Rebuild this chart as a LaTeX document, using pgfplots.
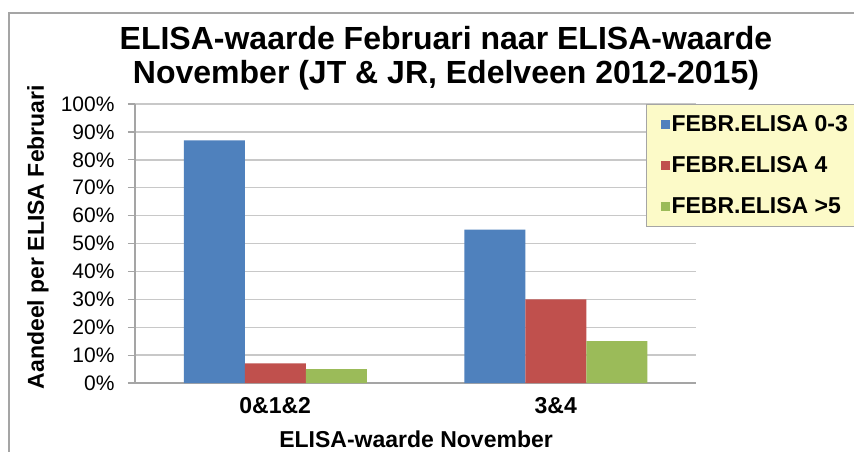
\documentclass[border=0pt]{standalone}
\usepackage{pgfplots}
\pgfplotsset{compat=1.18}
\usepackage{fontspec}
\setmainfont{Liberation Sans}
\definecolor{cblue}{RGB}{79,129,189}
\definecolor{cred}{RGB}{192,80,77}
\definecolor{cgreen}{RGB}{155,187,89}
\definecolor{legfill}{RGB}{252,250,200}
\definecolor{gridgray}{RGB}{200,200,200}
\definecolor{axgray}{RGB}{165,165,165}
\pgfplotsset{sqleg/.style={legend image code/.code={\fill[##1] (0pt,-4.5pt) rectangle (9pt,4.5pt);}}}
\begin{document}
\begin{tikzpicture}
\useasboundingbox (0pt,0pt) rectangle (854pt,-452pt);
\clip (0pt,0pt) rectangle (854pt,-452pt);
\fill[white] (0pt,0pt) rectangle (854pt,-452pt);
\draw[axgray, line width=1.5pt] (9pt,-452pt) -- (9pt,-13pt) -- (854pt,-13pt);
\node[font=\bfseries\fontsize{32}{34}\selectfont, align=center, anchor=base] at (446pt,-84pt) {ELISA-waarde Februari naar ELISA-waarde\\November (JT \& JR, Edelveen 2012-2015)};
\begin{axis}[
  at={(135pt,-383pt)}, anchor=south west,
  scale only axis, width=561pt, height=279pt,
  xmin=-0.5, xmax=1.5, ymin=0, ymax=100,
  ybar=0pt, bar width=61pt,
  axis x line*=bottom, axis y line*=left,
  axis line style={axgray, line width=1.2pt},
  tick align=outside, major tick length=7pt,
  xtick={0,1}, xticklabels={0\&1\&2, 3\&4},
  x tick style={draw=none},
  extra x ticks={-0.5,0.5,1.5}, extra x tick labels={},
  extra x tick style={major tick length=8pt, tick style={draw=axgray, line width=1.2pt}},
  xticklabel style={font=\bfseries\fontsize{23}{26}\selectfont, yshift=-4pt},
  ytick={0,10,...,100},
  y tick style={draw=axgray, line width=1.2pt},
  yticklabel={\pgfmathprintnumber{\tick}\%},
  /pgf/number format/assume math mode=true,
  yticklabel style={font=\fontsize{21}{24}\selectfont, xshift=-10pt},
  ymajorgrids, major grid style={gridgray, line width=1.4pt},
  xlabel={ELISA-waarde November},
  xlabel style={at={(axis description cs:0.501,-0.202)}, anchor=center, font=\bfseries\fontsize{23}{26}\selectfont},
  ylabel={Aandeel per ELISA Februari},
  ylabel style={at={(axis description cs:-0.173,0.523)}, anchor=center, font=\bfseries\fontsize{23}{26}\selectfont},
  legend style={at={(rel axis cs:0.911,1)}, anchor=north west, fill=legfill, draw=axgray, line width=1pt,
    font=\bfseries\fontsize{23}{26}\selectfont, row sep=19.5pt, inner xsep=14pt, inner ysep=9pt},
  legend cell align=left,
]
\addplot[fill=cblue, draw=none, sqleg] coordinates {(0,87) (1,55)};
\addplot[fill=cred, draw=none, sqleg] coordinates {(0,7) (1,30)};
\addplot[fill=cgreen, draw=none, sqleg] coordinates {(0,5) (1,15)};
\legend{FEBR.ELISA 0-3, FEBR.ELISA 4, FEBR.ELISA >5}
\end{axis}
\end{tikzpicture}
\end{document}
